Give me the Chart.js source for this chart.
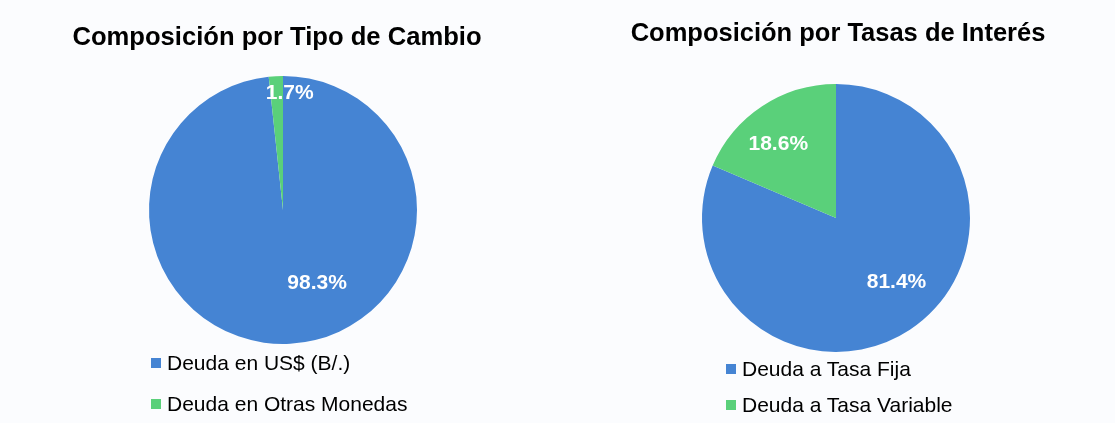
<!DOCTYPE html>
<html>
<head>
<meta charset="utf-8">
<script src="https://cdn.jsdelivr.net/npm/chart.js@4/dist/chart.umd.min.js"></script>
<style>
	html, body { margin: 0; padding: 0; }
	body { width: 1115px; height: 423px; background: #fbfcfe; position: relative; overflow: hidden; font-family: "Liberation Sans", Arial, sans-serif; }
	.box { position: absolute; top: 0; height: 423px; }
	.title { position: absolute; font-weight: bold; color: #000; white-space: nowrap; transform: translate(-50%, -50%); }
	.legend { position: absolute; font-size: 21px; color: #000; }
	.item { position: absolute; white-space: nowrap; display: flex; align-items: center; transform: translateY(-50%); }
	.item span { display: inline-block; width: 10px; height: 10px; margin-right: 6px; }
</style>
</head>
<body>
<div class="box" style="left:0;width:557px"><canvas id="chart1" width="557" height="423"></canvas></div>
<div class="box" style="left:557px;width:558px"><canvas id="chart2" width="558" height="423"></canvas></div>
<div class="title" id="title1" style="left:277px;top:36px;font-size:25.6px"></div>
<div class="title" id="title2" style="left:838px;top:32px;font-size:25.5px"></div>
<div id="legend1"></div>
<div id="legend2"></div>

<script>
const title1 = "Composición por Tipo de Cambio";
const labels1 = ["Deuda en US$ (B/.)", "Deuda en Otras Monedas"];
const values1 = [98.3, 1.7];

const title2 = "Composición por Tasas de Interés";
const labels2 = ["Deuda a Tasa Fija", "Deuda a Tasa Variable"];
const values2 = [81.4, 18.6];

const colors = ["#4584d3", "#5ad07a"];

document.getElementById("title1").textContent = title1;
document.getElementById("title2").textContent = title2;

// legend, one item per row
function makeLegend(id, labels, left, rows) {
	const el = document.getElementById(id);
	for (let i = 0; i < labels.length; i++) {
		const d = document.createElement("div");
		d.className = "legend item";
		d.style.left = left + "px";
		d.style.top = rows[i] + "px";
		d.innerHTML = '<span style="background:' + colors[i] + '"></span>';
		d.appendChild(document.createTextNode(labels[i]));
		el.appendChild(d);
	}
}
makeLegend("legend1", labels1, 151, [363, 404]);
makeLegend("legend2", labels2, 726, [369, 405]);

// percent labels on the slices
const sliceLabels = {
	id: "sliceLabels",
	afterDatasetsDraw(chart, args, opts) {
		const ctx = chart.ctx;
		const arcs = chart.getDatasetMeta(0).data;
		const vals = chart.data.datasets[0].data;
		ctx.save();
		ctx.fillStyle = "#ffffff";
		ctx.font = "bold 21px 'Liberation Sans', Arial, sans-serif";
		ctx.textAlign = "center";
		ctx.textBaseline = "middle";
		arcs.forEach((arc, i) => {
			const p = arc.getProps(["x", "y", "startAngle", "endAngle", "outerRadius"], true);
			const pos = opts.pos[i];
			const a = (p.startAngle + p.endAngle) / 2 + pos[1] * Math.PI / 180;
			const r = p.outerRadius * pos[0];
			ctx.fillText(vals[i].toFixed(1) + "%", p.x + Math.cos(a) * r, p.y + Math.sin(a) * r);
		});
		ctx.restore();
	}
};

function makePie(id, labels, values, padding, pos) {
	new Chart(id, {
		type: "pie",
		data: {
			labels: labels,
			datasets: [{
				data: values,
				backgroundColor: colors,
				borderWidth: 0
			}]
		},
		options: {
			responsive: false,
			animation: false,
			layout: { padding: padding },
			plugins: {
				legend: { display: false },
				tooltip: { enabled: false },
				sliceLabels: { pos: pos }
			}
		},
		plugins: [sliceLabels]
	});
}

makePie("chart1", labels1, values1, { left: 149, right: 140, top: 76, bottom: 79 }, [[0.6, -22], [0.87, 6.4]]);
makePie("chart2", labels2, values2, { left: 145, right: 145, top: 84, bottom: 71 }, [[0.66, -9.7], [0.7, -4.5]]);
</script>
</body>
</html>
